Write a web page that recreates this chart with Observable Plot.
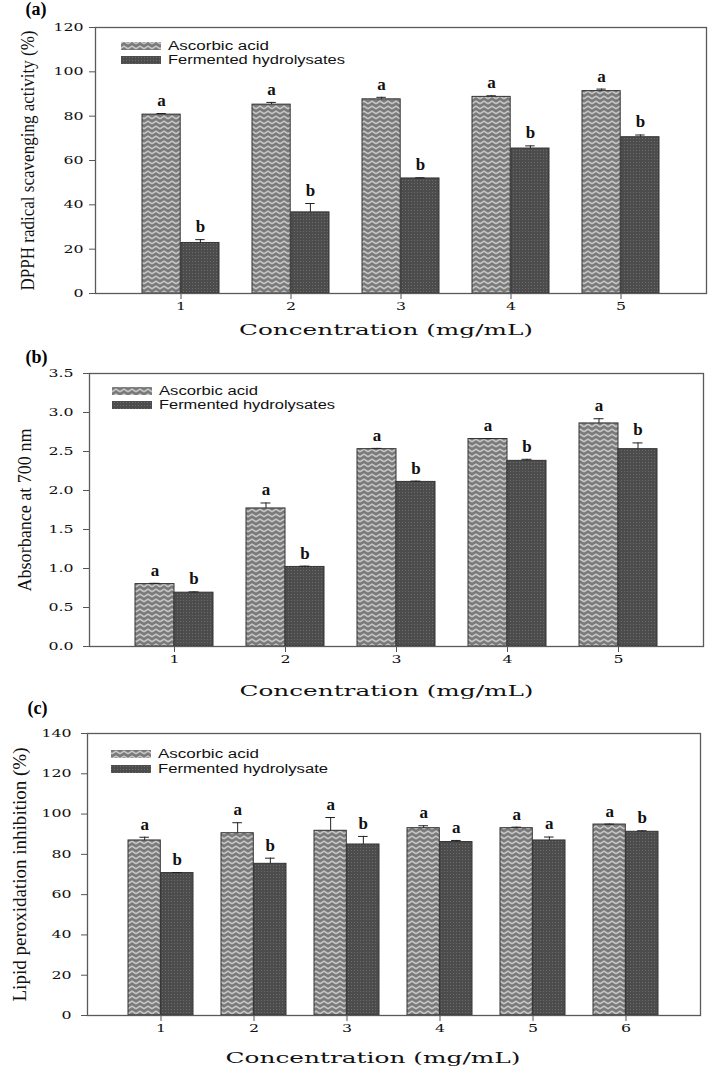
<!DOCTYPE html>
<html><head><meta charset="utf-8">
<script src="https://cdn.jsdelivr.net/npm/d3@7"></script>
<script src="https://cdn.jsdelivr.net/npm/@observablehq/plot@0.6"></script>
<style>
body{margin:0;background:#fff;}
#wrap{position:relative;width:708px;height:1071px;overflow:hidden;}
.panel{position:absolute;left:0;}
</style></head><body>
<svg width="0" height="0" style="position:absolute">
<defs>
<pattern id="zig" width="8" height="5" patternUnits="userSpaceOnUse">
 <rect width="8" height="5" fill="#7a7a7a"/>
 <polyline points="0,3.8 4,1.2 8,3.8" fill="none" stroke="#c6c6c6" stroke-width="1.6"/>
</pattern>
<pattern id="dots" width="3" height="3" patternUnits="userSpaceOnUse">
 <rect width="3" height="3" fill="#4c4c4c"/>
 <rect width="1" height="1" fill="#6c6c6c"/>
</pattern>
</defs></svg>
<div id="wrap"></div>
<script>
// ---- Panel (a) DPPH ----
const concA = [1, 2, 3, 4, 5];
const ascorbicA = [80.7, 85.2, 87.6, 88.7, 91.3];
const ascorbicErrA = [0.5, 1.0, 0.9, 0.5, 0.9];
const fermentedA = [22.8, 36.6, 51.9, 65.4, 70.5];
const fermentedErrA = [1.5, 4.0, 0.3, 1.2, 1.0];
const lettersAscA = ["a", "a", "a", "a", "a"];
const lettersFermA = ["b", "b", "b", "b", "b"];
const yTicksA = [0, 20, 40, 60, 80, 100, 120];

// ---- Panel (b) reducing power ----
const concB = [1, 2, 3, 4, 5];
const ascorbicB = [0.80, 1.77, 2.53, 2.66, 2.86];
const ascorbicErrB = [0.01, 0.07, 0.01, 0.005, 0.06];
const fermentedB = [0.69, 1.02, 2.11, 2.38, 2.53];
const fermentedErrB = [0.01, 0.01, 0.01, 0.02, 0.08];
const lettersAscB = ["a", "a", "a", "a", "a"];
const lettersFermB = ["b", "b", "b", "b", "b"];
const yTicksB = [0, 0.5, 1, 1.5, 2, 2.5, 3, 3.5];

// ---- Panel (c) lipid peroxidation ----
const concC = [1, 2, 3, 4, 5, 6];
const ascorbicC = [86.9, 90.5, 91.7, 93.0, 93.0, 94.8];
const ascorbicErrC = [1.6, 5.2, 6.6, 1.2, 0.5, 0.2];
const fermentedC = [70.7, 75.3, 84.9, 86.1, 86.9, 91.2];
const fermentedErrC = [0.3, 2.8, 4.0, 0.8, 1.7, 0.5];
const lettersAscC = ["a", "a", "a", "a", "a", "a"];
const lettersFermC = ["b", "b", "b", "a", "a", "b"];
const yTicksC = [0, 20, 40, 60, 80, 100, 120, 140];

const xTitle = "Concentration (mg/mL)";

function panel(cfg) {
  const W = 708;
  const rows = [];
  cfg.conc.forEach((c, i) => {
    rows.push({c: String(c), s: "A", v: cfg.asc[i], e: cfg.ascErr[i], l: cfg.letA[i]});
    rows.push({c: String(c), s: "F", v: cfg.ferm[i], e: cfg.fermErr[i], l: cfg.letF[i]});
  });
  const A = rows.filter(d => d.s === "A"), F = rows.filter(d => d.s === "F");
  const pi = 0.3, po = cfg.po;
  const step = (W - cfg.ml - cfg.mr) / (cfg.conc.length - pi + 2 * po);
  const bw = step * (1 - pi), half = bw / 2, q = half / 2, cap = 5;
  const top = d => d.v + d.e;
  const txt = {fontFamily: "Liberation Serif", fontWeight: "bold", fontSize: 17, lineAnchor: "middle", fill: "#111"};
  const plot = Plot.plot({
    width: W, height: cfg.height,
    marginTop: cfg.mt, marginBottom: cfg.mb, marginLeft: cfg.ml, marginRight: cfg.mr,
    style: {fontFamily: "DejaVu Serif", fontSize: "10px", color: "#111", background: "#fff", overflow: "visible"},
    x: {type: "band", domain: cfg.conc.map(String), paddingInner: pi, paddingOuter: po, axis: null},
    y: {domain: cfg.yDomain, axis: null},
    marks: [
      Plot.barY(A, {x: "c", y: "v", fill: "url(#zig)", stroke: "#333", strokeWidth: 1, insetRight: half}),
      Plot.barY(F, {x: "c", y: "v", fill: "url(#dots)", stroke: "#333", strokeWidth: 1, insetLeft: half}),
      Plot.ruleX(A, {x: "c", y1: "v", y2: top, dx: -q, stroke: "#222", strokeWidth: 1}),
      Plot.ruleX(F, {x: "c", y1: "v", y2: top, dx: q, stroke: "#222", strokeWidth: 1}),
      Plot.tickY(A, {x: "c", y: top, insetLeft: q - cap, insetRight: bw - q - cap, stroke: "#222", strokeWidth: 1}),
      Plot.tickY(F, {x: "c", y: top, insetLeft: half + q - cap, insetRight: q - cap, stroke: "#222", strokeWidth: 1}),
      Plot.text(A, {x: "c", y: top, text: "l", dx: -q, dy: -13, ...txt}),
      Plot.text(F, {x: "c", y: top, text: "l", dx: q, dy: -13, ...txt}),
      Plot.axisY({ticks: cfg.yTicks, tickFormat: cfg.yFormat, tickSize: 6, tickPadding: cfg.yPad, stroke: "#555", label: null, fontSize: 10.5}),
      Plot.axisX({tickSize: 6, tickPadding: 3, stroke: "#555", label: null, fontSize: 10.5}),
      Plot.frame({stroke: "#5a5a5a", strokeWidth: 1.3}),
      Plot.text([cfg.yLabel], {frameAnchor: "left", textAnchor: "middle", rotate: -90, dx: cfg.yLabelDx, fontFamily: "Liberation Serif", fontSize: 18, fill: "#111"}),
      Plot.text([xTitle], {frameAnchor: "bottom", textAnchor: "middle", lineAnchor: "middle", dy: cfg.xTitleDy, dx: cfg.xTitleDx, fontFamily: "DejaVu Serif", fontSize: 15.5, fill: "#111"}),
      Plot.text([cfg.panelLabel], {frameAnchor: "top-left", textAnchor: "start", lineAnchor: "middle", dx: cfg.plDx, dy: cfg.plDy, fontFamily: "Liberation Serif", fontWeight: "bold", fontSize: 18, fill: "#000"})
    ]
  });
  plot.classList.add("panel");
  plot.style.top = cfg.top + "px";
  document.getElementById("wrap").appendChild(plot);
  const svg = d3.select(plot);
  // legend
  const lg = svg.append("g").attr("text-anchor", "start");
  cfg.legend.forEach((name, i) => {
    const y0 = cfg.mt + cfg.lgDy + i * cfg.lgGap;
    lg.append("rect").attr("x", cfg.ml + cfg.lgDx).attr("y", y0).attr("width", 40).attr("height", 8)
      .attr("fill", i === 0 ? "url(#zig)" : "url(#dots)");
    lg.append("text").attr("x", cfg.ml + cfg.lgDx + 47).attr("y", y0 + 4).attr("dy", "0.35em")
      .attr("text-anchor", "start")
      .attr("font-family", "Liberation Sans").attr("font-size", 12.5).attr("fill", "#111")
      .attr("textLength", cfg.lgLen[i]).attr("lengthAdjust", "spacingAndGlyphs").text(name);
  });
  // horizontal stretch of tick labels (the original is widened)
  svg.selectAll('g[aria-label$="tick label"] text').each(function() {
    const L = this.getComputedTextLength();
    this.setAttribute("textLength", L * 1.5);
    this.setAttribute("lengthAdjust", "spacingAndGlyphs");
  });
  svg.selectAll("text").each(function() {
    if (this.textContent === xTitle) { this.setAttribute("textLength", cfg.xTitleLen); this.setAttribute("lengthAdjust", "spacingAndGlyphs"); }
    if (this.textContent === cfg.yLabel) { this.setAttribute("textLength", cfg.yLabelLen); this.setAttribute("lengthAdjust", "spacingAndGlyphs"); }
  });
}

panel({top: 0, height: 348, mt: 27, mb: 55, ml: 95, mr: 2, po: 0.405,
  conc: concA, asc: ascorbicA, ascErr: ascorbicErrA, ferm: fermentedA, fermErr: fermentedErrA,
  letA: lettersAscA, letF: lettersFermA, yDomain: [0, 120], yTicks: yTicksA, yFormat: d3.format("d"), yPad: 6,
  yLabel: "DPPH radical scavenging activity (%)", yLabelDx: -67, yLabelLen: 260,
  xTitleDy: 37, xTitleDx: -15, xTitleLen: 294, panelLabel: "(a)", plDx: -70, plDy: -18,
  legend: ["Ascorbic acid", "Fermented hydrolysates"], lgDx: 26, lgDy: 15, lgGap: 14, lgLen: [101, 177]});

panel({top: 348, height: 352, mt: 25, mb: 54, ml: 89, mr: 5, po: 0.405,
  conc: concB, asc: ascorbicB, ascErr: ascorbicErrB, ferm: fermentedB, fermErr: fermentedErrB,
  letA: lettersAscB, letF: lettersFermB, yDomain: [0, 3.5], yTicks: yTicksB, yFormat: d3.format(".1f"), yPad: 10,
  yLabel: "Absorbance at 700 nm", yLabelDx: -64, yLabelLen: 163,
  xTitleDy: 45, xTitleDx: -10, xTitleLen: 294, panelLabel: "(b)", plDx: -64, plDy: -16,
  legend: ["Ascorbic acid", "Fermented hydrolysates"], lgDx: 23, lgDy: 14, lgGap: 14, lgLen: [99, 176]});

panel({top: 700, height: 371, mt: 33, mb: 56, ml: 87, mr: 8, po: 0.43,
  conc: concC, asc: ascorbicC, ascErr: ascorbicErrC, ferm: fermentedC, fermErr: fermentedErrC,
  letA: lettersAscC, letF: lettersFermC, yDomain: [0, 140], yTicks: yTicksC, yFormat: d3.format("d"), yPad: 10,
  yLabel: "Lipid peroxidation inhibition (%)", yLabelDx: -67, yLabelLen: 254,
  xTitleDy: 43, xTitleDx: -21, xTitleLen: 295, panelLabel: "(c)", plDx: -60, plDy: -25,
  legend: ["Ascorbic acid", "Fermented hydrolysate"], lgDx: 24, lgDy: 17, lgGap: 15, lgLen: [101, 170]});
</script>
</body></html>
